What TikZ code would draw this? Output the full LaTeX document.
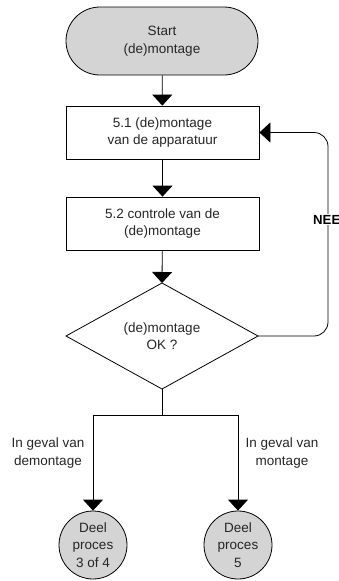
\documentclass[tikz,border=0pt]{standalone}
\usepackage{fontspec}
\setmainfont{Liberation Sans}
\usetikzlibrary{arrows.meta}
\begin{document}
\begin{tikzpicture}[x=1pt,y=-1pt,
  every node/.style={font=\fontsize{13.5}{17.5}\selectfont, align=center, inner sep=0pt, text=black!85},
  term/.style={draw, line width=0.8pt, fill=black!17, rounded corners=34pt, minimum width=192pt, minimum height=68pt},
  procbox/.style={draw, line width=0.8pt, fill=white, minimum width=193pt, minimum height=53pt},
  decis/.style={draw, line width=0.8pt},
  endc/.style={draw, line width=0.8pt, fill=black!17, circle, minimum size=68pt},
  conn/.style={line width=0.8pt, -{Triangle[width=20pt,length=11pt]}},
  neestyle/.style={fill=white, text=black, font=\fontsize{13.2}{16}\selectfont\bfseries, inner sep=1pt}
]
\useasboundingbox (0,0) rectangle (339,581);
\node[term] (start) at (162,41) {Start\\(de)montage};
\node[procbox] (b1) at (162.5,132.5) {5.1 (de)montage\\van de apparatuur};
\node[procbox] (b2) at (162.5,223.5) {5.2 controle van de\\(de)montage};
% diamond
\coordinate (dt) at (162,283);
\coordinate (dr) at (258,336);
\coordinate (db) at (162,389);
\coordinate (dl) at (66,336);
\draw[decis] (dt) -- (dr) -- (db) -- (dl) -- cycle;
\node (dtext) at (162,336) {(de)montage\\OK ?};
\node[endc] (c1) at (93,545) {Deel\\proces\\3 of 4};
\node[endc] (c2) at (238,545) {Deel\\proces\\5};
\coordinate (split) at (162,415);
\draw[conn] (start) -- (b1);
\draw[conn] (b1) -- (b2);
\draw[conn] (b2) -- (dt);
\draw[conn, rounded corners=14pt] (dr) -| (328,200) |- (b1.east);
\node[neestyle, anchor=west] (neelab) at (312,219.5) {NEE};
\draw[line width=0.8pt] (db) -- (split);
\draw[conn] (split) -| (c1.north);
\draw[conn] (split) -| (c2.north);
\node (l1) at (48,453) {In geval van\\demontage};
\node (l2) at (282,453) {In geval van\\montage};
\end{tikzpicture}
\end{document}
